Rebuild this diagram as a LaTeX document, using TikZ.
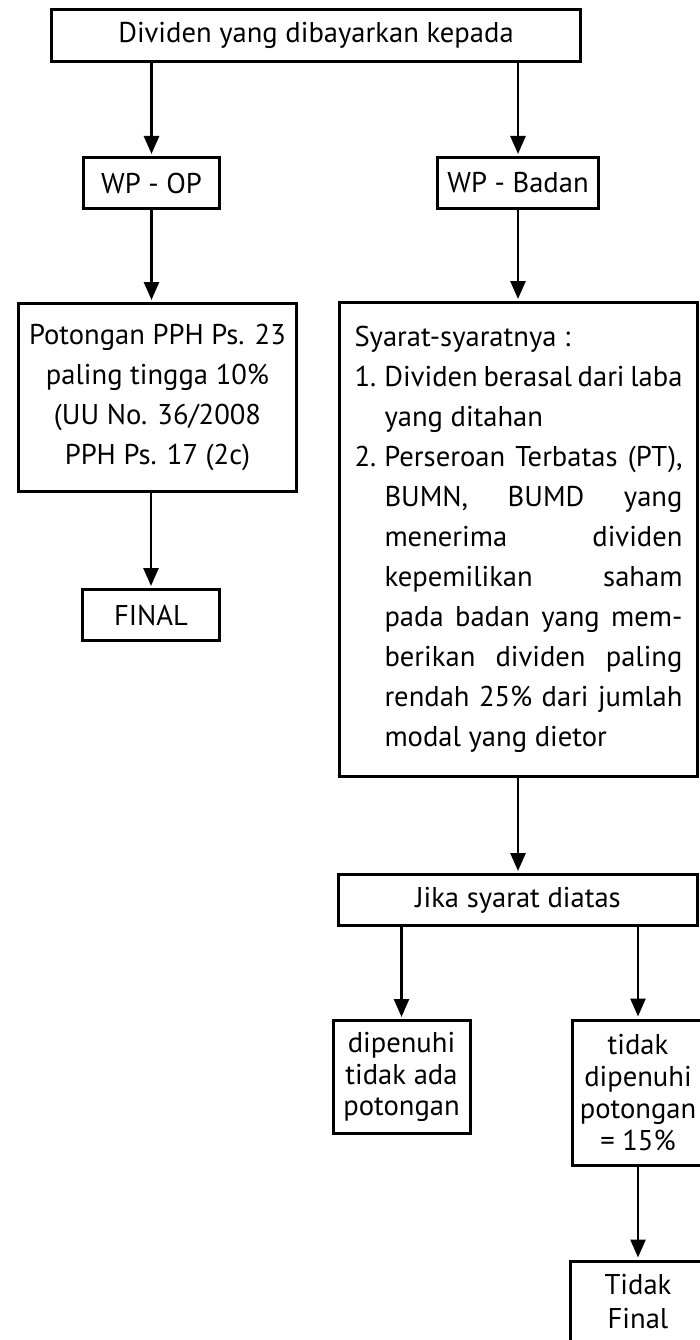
\documentclass[tikz,border=0pt]{standalone}
\usepackage{fontspec}
\setmainfont{PT Sans}
\usetikzlibrary{arrows.meta}
% text sizes: regular boxes and the two condition boxes
\newcommand{\fsz}{\fontsize{28.6}{40}\selectfont}
\newcommand{\fszs}{\fontsize{28.6}{31.7}\selectfont}
\newcommand{\fszt}{\fontsize{28.6}{34}\selectfont}
% numbered and continuation lines of the requirements list
\newcommand{\numline}[2]{\makebox[30pt][l]{#1}\makebox[298pt][s]{#2}}
\newcommand{\jline}[1]{\hspace*{30pt}\makebox[298pt][s]{#1}}
\newcommand{\lline}[1]{\hspace*{30pt}#1}
\begin{document}
\begin{tikzpicture}[x=1pt,y=-1pt,
  box/.style={draw=black, line width=3pt, inner sep=0pt, align=center,
    text=black, font=\fsz},
  arr/.style={draw=black, line width=2.7pt,
    -{Triangle[length=18pt,width=15pt]}, shorten >=2pt}]
\useasboundingbox (0,0) rectangle (700,1340);
\clip (0,0) rectangle (700,1340);

% boxes
\node[box, minimum width=529pt, minimum height=52pt] (top) at (316,35.5)
  {Dividen yang dibayarkan kepada};
\node[box, minimum width=136pt, minimum height=51pt] (wpop) at (151.5,183)
  {WP - OP};
\node[box, minimum width=161pt, minimum height=51pt] (wpb) at (518,183)
  {WP - Badan};
\node[box, minimum width=278pt, minimum height=188pt] (pot) at (157.5,397.5)
  {Potongan PPH Ps. 23\\paling tingga 10\%\\(UU No. 36/2008\\PPH Ps. 17 (2c)};
\node[box, minimum width=137pt, minimum height=51pt] (final) at (151,615)
  {FINAL};
\node[box, minimum width=358pt, minimum height=474pt] (syarat) at (518.5,539.5)
  {\parbox{328pt}{\fsz
    Syarat-syaratnya :\\
    \numline{1.}{Dividen berasal dari laba}\\
    \lline{yang ditahan}\\
    \numline{2.}{Perseroan Terbatas (PT),}\\
    \jline{BUMN, BUMD yang}\\
    \jline{menerima dividen}\\
    \jline{kepemilikan saham}\\
    \jline{pada badan yang mem-}\\
    \jline{berikan dividen paling}\\
    \jline{rendah 25\% dari jumlah}\\
    \lline{modal yang dietor}}};
\node[box, minimum width=359pt, minimum height=51pt] (jika) at (518,900)
  {Jika syarat diatas};
\node[box, font=\fszs, minimum width=137pt, minimum height=113pt] (dip) at (401.5,1077)
  {dipenuhi\\tidak ada\\potongan};
\node[box, font=\fszs, minimum width=132pt, minimum height=145pt] (tidak) at (638,1092.5)
  {tidak\\dipenuhi\\potongan\\= 15\%};
\node[box, font=\fszt, minimum width=136pt, minimum height=82pt] (tf) at (638,1302)
  {Tidak\\Final};

% connectors
\draw[arr] (top.south -| wpop.north) -- (wpop.north);
\draw[arr] (top.south -| wpb.north) -- (wpb.north);
\draw[arr] (wpop.south) -- (wpop.south |- pot.north);
\draw[arr] (pot.south -| final.north) -- (final.north);
\draw[arr] (wpb.south) -- (wpb.south |- syarat.north);
\draw[arr] (syarat.south -| jika.north) -- (jika.north);
\draw[arr] (jika.south -| dip.north) -- (dip.north);
\draw[arr] (jika.south -| tidak.north) -- (tidak.north);
\draw[arr] (tidak.south) -- (tf.north);
\end{tikzpicture}
\end{document}
